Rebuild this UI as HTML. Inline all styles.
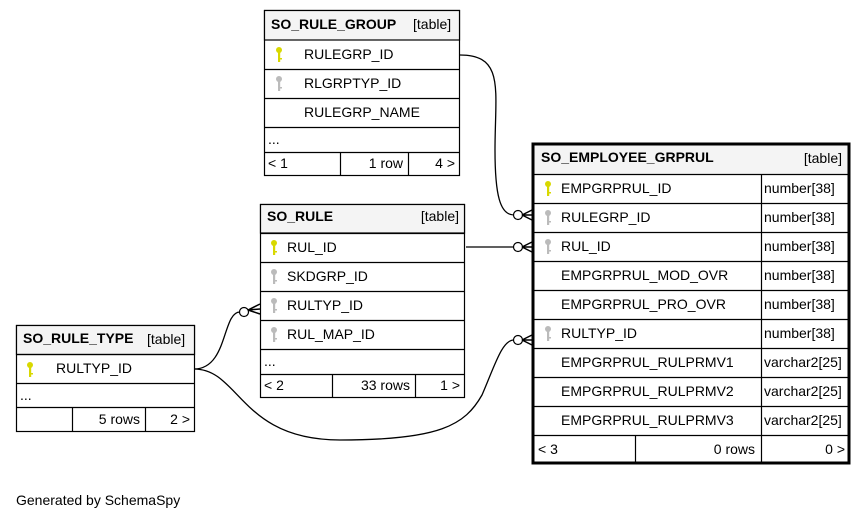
<!DOCTYPE html>
<html><head><meta charset="utf-8"><style>
html,body{margin:0;padding:0;background:#fff;width:868px;height:520px;overflow:hidden}
svg text{font-family:"Liberation Sans",Arial,sans-serif;font-size:14px;fill:#000}
.b{font-weight:bold}
</style></head><body>
<svg width="868" height="520" viewBox="0 0 868 520" xmlns="http://www.w3.org/2000/svg">
<defs>
<g id="kY"><circle cx="0" cy="0" r="3" fill="#d8d800"/><rect x="-1" y="0" width="2.2" height="12" fill="#d8d800"/><rect x="0" y="8" width="3" height="1.5" fill="#d8d800"/></g>
<g id="kG"><circle cx="0" cy="0" r="3" fill="#bbb"/><rect x="-1" y="0" width="2.2" height="12" fill="#bbb"/><rect x="0" y="8" width="3" height="1.5" fill="#bbb"/></g>
</defs>
<g stroke="#000" stroke-width="1.3" fill="none">
<path d="M460,55 C505,55 495,90 495,150 C495,195 500,215 514,215"/>
<path d="M466,247 L514,247"/>
<path d="M194,369 C228,369 222,312 240,312"/>
<path d="M194,369 C240,369 240,440 340,440 C440,440 465,425 482,395 C495,365 502,340 514,340"/>
</g>
<g fill="#fff" stroke="#000" stroke-width="1.2">
<circle cx="518" cy="215" r="4.5"/>
<circle cx="518" cy="247" r="4.5"/>
<circle cx="518" cy="340" r="4.5"/>
<circle cx="244" cy="312" r="4.5"/>
</g>
<g stroke="#000" stroke-width="1.5" fill="none">
<path d="M522,215 L532,210 M522,215 L532,215 M522,215 L532,220"/>
<path d="M522,247 L532,242 M522,247 L532,247 M522,247 L532,252"/>
<path d="M522,340 L532,335 M522,340 L532,340 M522,340 L532,345"/>
<path d="M248,310 L260,304 M248,310 L260,309 M248,310 L260,314"/>
</g>

<!-- SO_RULE_GROUP -->
<g stroke="#000" stroke-width="1.2">
<rect x="264.5" y="10.5" width="195" height="165" fill="#fff"/>
<rect x="264.5" y="10.5" width="195" height="29.5" fill="#f4f4f4"/>
<path d="M264,69.5H460M264,98.5H460M264,127.5H460M264,152.5H460M340.5,152V176M408.5,152V176" fill="none"/>
</g>
<text x="271" y="29" class="b">SO_RULE_GROUP</text><text x="413" y="29">[table]</text>
<use href="#kY" x="279" y="50"/><text x="304" y="59">RULEGRP_ID</text>
<use href="#kG" x="279" y="79"/><text x="304" y="88">RLGRPTYP_ID</text>
<text x="304" y="117">RULEGRP_NAME</text>
<text x="268" y="144">...</text>
<text x="268" y="168">&lt; 1</text><text x="403" y="168" text-anchor="end">1 row</text><text x="455" y="168" text-anchor="end">4 &gt;</text>

<!-- SO_RULE -->
<g stroke="#000" stroke-width="1.2">
<rect x="260.5" y="204.5" width="204" height="193" fill="#fff"/>
<rect x="260.5" y="204.5" width="204" height="28.5" fill="#f4f4f4"/>
<path d="M260,233.5H465M260,262.5H465M260,291.5H465M260,320.5H465M260,349.5H465M260,374.5H465M332.5,374V398M415.5,374V398" fill="none"/>
</g>
<text x="267" y="221" class="b">SO_RULE</text><text x="459" y="221" text-anchor="end">[table]</text>
<use href="#kY" x="274" y="243"/><text x="287" y="252">RUL_ID</text>
<use href="#kG" x="274" y="272"/><text x="287" y="281">SKDGRP_ID</text>
<use href="#kG" x="274" y="301"/><text x="287" y="310">RULTYP_ID</text>
<use href="#kG" x="274" y="330"/><text x="287" y="339">RUL_MAP_ID</text>
<text x="264" y="366">...</text>
<text x="264" y="390">&lt; 2</text><text x="410" y="390" text-anchor="end">33 rows</text><text x="460" y="390" text-anchor="end">1 &gt;</text>

<!-- SO_RULE_TYPE -->
<g stroke="#000" stroke-width="1.2">
<rect x="16.5" y="325.5" width="178" height="106" fill="#fff"/>
<rect x="16.5" y="325.5" width="178" height="29" fill="#f4f4f4"/>
<path d="M16,354.5H195M16,383.5H195M16,407.5H195M72.5,407V432M145.5,407V432" fill="none"/>
</g>
<text x="23" y="343" class="b">SO_RULE_TYPE</text><text x="147" y="344">[table]</text>
<use href="#kY" x="30" y="365"/><text x="56" y="373">RULTYP_ID</text>
<text x="20" y="400">...</text>
<text x="140" y="424" text-anchor="end">5 rows</text><text x="190" y="424" text-anchor="end">2 &gt;</text>

<!-- SO_EMPLOYEE_GRPRUL -->
<g stroke="#000" stroke-width="1.2">
<rect x="533" y="144" width="316" height="319" fill="#fff" stroke-width="3"/>
<rect x="534.5" y="145.5" width="313" height="28.5" fill="#f4f4f4" stroke="none"/>
<path d="M533,174.5H849M533,203.5H849M533,232.5H849M533,261.5H849M533,290.5H849M533,319.5H849M533,348.5H849M533,377.5H849M533,406.5H849M533,435.5H849M761.5,174V464M635.5,435V464" fill="none"/>
</g>
<text x="541" y="162" class="b">SO_EMPLOYEE_GRPRUL</text><text x="842" y="163" text-anchor="end">[table]</text>
<use href="#kY" x="548" y="184"/><text x="561" y="193">EMPGRPRUL_ID</text><text x="764" y="193">number[38]</text>
<use href="#kG" x="548" y="213"/><text x="561" y="222">RULEGRP_ID</text><text x="764" y="222">number[38]</text>
<use href="#kG" x="548" y="242"/><text x="561" y="251">RUL_ID</text><text x="764" y="251">number[38]</text>
<text x="561" y="280">EMPGRPRUL_MOD_OVR</text><text x="764" y="280">number[38]</text>
<text x="561" y="309">EMPGRPRUL_PRO_OVR</text><text x="764" y="309">number[38]</text>
<use href="#kG" x="548" y="329"/><text x="561" y="338">RULTYP_ID</text><text x="764" y="338">number[38]</text>
<text x="561" y="367">EMPGRPRUL_RULPRMV1</text><text x="764" y="367">varchar2[25]</text>
<text x="561" y="396">EMPGRPRUL_RULPRMV2</text><text x="764" y="396">varchar2[25]</text>
<text x="561" y="425">EMPGRPRUL_RULPRMV3</text><text x="764" y="425">varchar2[25]</text>
<text x="538" y="454">&lt; 3</text><text x="755" y="454" text-anchor="end">0 rows</text><text x="845" y="454" text-anchor="end">0 &gt;</text>

<text x="16" y="505">Generated by SchemaSpy</text>
</svg>
</body></html>
